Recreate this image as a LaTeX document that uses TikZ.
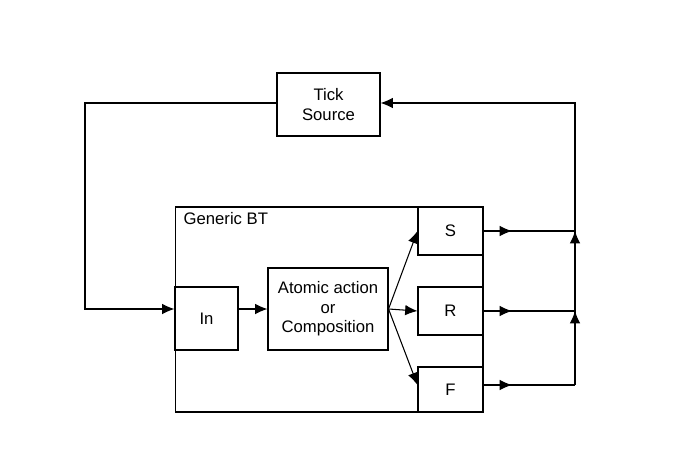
\documentclass[tikz,border=0pt]{standalone}
\usepackage{fontspec}
\setmainfont{Liberation Sans}
\usetikzlibrary{arrows.meta}
\begin{document}
\begin{tikzpicture}[x=0.02cm,y=-0.02cm,font=\fontsize{9.5}{11}\selectfont]
    % Define styles for boxes and arrows
    \tikzset{block/.style={draw=black, semithick, fill=white, inner sep=0pt, align=center}}
    \tikzset{arrow/.style={semithick,-{Latex[length=7pt,width=6pt]}}}
    \tikzset{line/.style={semithick}}
    \useasboundingbox (0,0) rectangle (696,456);

    \node (tick) [block, minimum width=2.06cm, minimum height=1.26cm] at (328.5,104.5) {Tick\\Source};
    \node (bt) [block, minimum width=6.16cm, minimum height=4.1cm, label={[anchor=north west, inner xsep=5pt, inner ysep=3pt]north west:Generic BT}] at (329,309.5) {};
    \node (in) [block, minimum width=1.26cm, minimum height=1.26cm] at (206.5,318.5) {In};
    \node (atom) [block, minimum width=2.4cm, minimum height=1.64cm] at (328,309) {Atomic action\\or\\Composition};
    \node (s) [block, minimum width=1.3cm, minimum height=0.96cm] at (450.5,231) {S};
    \node (r) [block, minimum width=1.3cm, minimum height=0.96cm] at (450.5,311) {R};
    \node (f) [block, minimum width=1.3cm, minimum height=0.9cm] at (450.5,389.5) {F};

    \coordinate (sm) at (512,231);
    \coordinate (rm) at (512,311);
    \coordinate (fm) at (512,385);
    \coordinate (top) at (575,103);
    \coordinate (sj) at (575,231);
    \coordinate (rj) at (575,311);
    \coordinate (fj) at (575,385);
    \coordinate (left) at (85,103);

    % Arrows
    \draw [line] (s.east |- sm) -- (sj);
    \draw [line] (r.east) -- (rj);
    \draw [line] (f.east |- fm) -- (fj);
    \draw [line] (fj) -- (sj);
    \draw [arrow] (in.east |- atom) -- (atom.west);
    \draw [arrow] (atom.east) -- (s.west);
    \draw [arrow] (atom.east) -- (r.west);
    \draw [arrow] (atom.east) -- (f.west |- fm);
    \draw [arrow] (s.east |- sm) -- (sm);
    \draw [arrow] (r.east) -- (rm);
    \draw [arrow] (f.east |- fm) -- (fm);
    \draw [arrow] (fj) -- (rj);
    \draw [arrow] (rj) -- (sj);
    \draw [arrow] (sj) -- (top) -- (tick.east |- top);
    \draw [arrow] (tick.west |- left) -- (left) |- (in.west |- atom);
\end{tikzpicture}
\end{document}
